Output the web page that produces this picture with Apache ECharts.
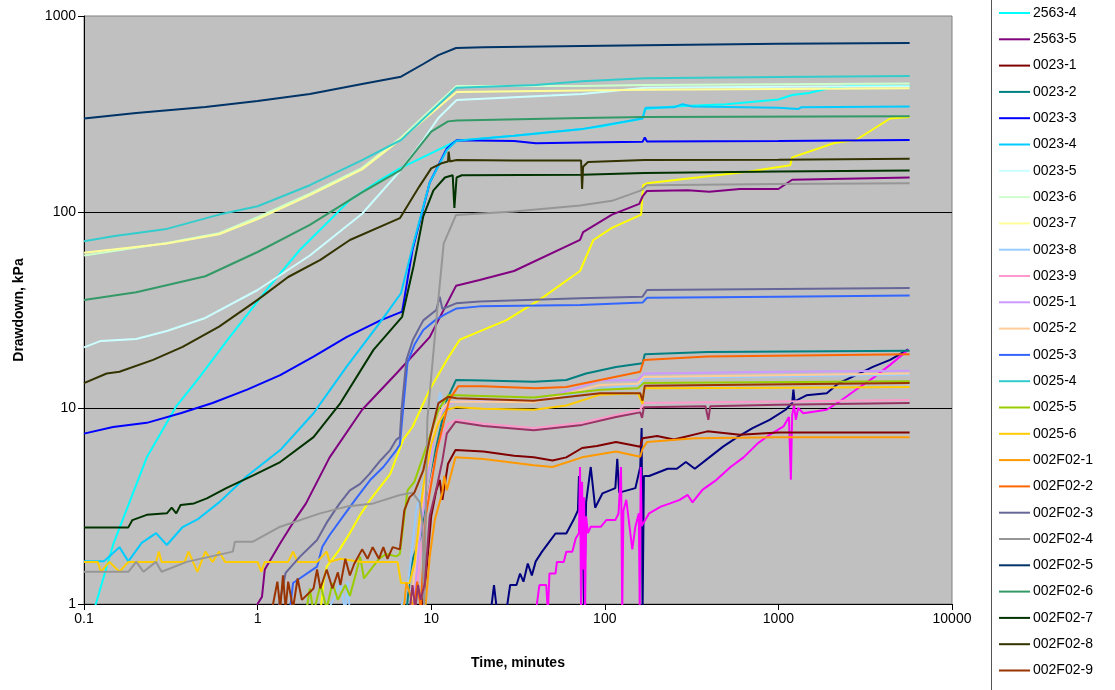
<!DOCTYPE html>
<html><head><meta charset="utf-8">
<script src="https://cdn.jsdelivr.net/npm/echarts@6/dist/echarts.min.js"></script>
<style>html,body{margin:0;padding:0;background:#fff}#c{width:1115px;height:690px}</style>
</head><body><div id="c"></div>
<script>
// ---- DATA: [time (min), drawdown (kPa)]; values below 1 kPa fall off the bottom of the axis ----
const xTicks = [0.1, 1, 10, 100, 1000, 10000];
const yTicks = [1, 10, 100, 1000];

const s2563_1 = [[19.9,0.9],[22,0.9],[23,1.25],[24,0.9],[27,0.9],[28.5,1.25],[31,1.25],[32.5,1.43],[34,1.3],[36,1.61],[38,1.4],[40,1.65],[43.5,1.85],[48,2.08],[52,2.29],[60,2.29],[66,2.68],[70,3.0],[71,4.5],[72,3.0],[74,3.3],[76,0.9],[78,3.3],[83,5.0],[88,3.1],[97,3.67],[115,3.9],[118,5.5],[121,3.7],[150,3.9],[160,5.0],[163,7.9],[165,0.9],[168,4.5],[180,4.5],[230,4.9],[260,4.9],[293,5.3],[330,4.9],[400,5.6],[480,6.35],[580,7.1],[710,7.9],[890,8.7],[1100,9.8],[1200,10.6],[1220,12.4],[1240,10.8],[1450,11.6],[1900,11.9],[2230,13.4],[2800,14.7],[3500,16.2],[4400,17.6],[5600,19.9]];
const s2563_2 = [[33,0.9],[40,0.9],[42,1.25],[46,1.25],[47,0.9],[48,1.43],[52,1.43],[53,1.64],[58,1.64],[60,1.85],[65,1.85],[68,2.16],[71,2.3],[72,5.0],[73,0.9],[74,4.2],[75,1.5],[76,3.5],[77,0.9],[78,2.8],[80,2.3],[83,2.48],[95,2.48],[102,2.68],[115,2.68],[120,2.9],[124,5.0],[126,0.9],[128,3.0],[133,3.4],[144,1.9],[150,2.48],[157,2.9],[159,0.9],[161,5.0],[163,2.5],[180,2.9],[210,3.14],[238,3.26],[270,3.4],[300,3.6],[320,3.3],[365,3.82],[440,4.3],[530,5.0],[630,5.6],[760,6.6],[890,7.3],[1070,8.05],[1150,9.0],[1180,4.3],[1200,9.2],[1230,10.3],[1260,8.7],[1300,10],[1390,9.4],[1900,9.8],[2250,10.8],[2800,12.4],[3500,14.2],[4400,16.6],[5600,19.8]];
const s2563_3 = [[2.3,0.9],[2.4,1.3],[2.5,1.55],[2.97,1.9],[3.4,2.3],[3.9,2.85],[4.45,3.4],[5.8,4.6],[6.9,6.9],[7.8,8],[9.8,12.4],[12.3,17.6],[14.6,22.3],[19,24.6],[27,28],[42,35.6],[72,50],[86,72],[110,83],[162,97],[166,137],[175,140],[680,161],[1170,173],[1200,190],[2100,225],[2800,233],[4400,300],[5700,305]];
const s2563_4 = [[0.113,0.9],[0.148,2.04],[0.23,5.6],[0.34,10.2],[0.45,13.9],[0.69,23],[1.15,41],[1.75,64],[3.4,115],[5.1,146],[6.6,167],[11.9,215],[14,231],[30,245],[72,264],[100,275],[165,300],[170,335],[250,345],[500,355],[1000,375],[1200,395],[1500,405],[2000,430],[2600,440],[5700,440]];
const s2563_5 = [[0.93,0.9],[1.06,1.09],[1.1,1.5],[1.35,2.04],[1.6,2.6],[1.9,3.26],[2.6,5.6],[4,9.8],[6.3,15],[9.8,23],[13.9,42],[19,45],[30,50],[72,72],[75,79],[110,97],[158,110],[165,120],[175,128],[300,129],[400,127],[600,131],[1000,131],[1200,146],[5700,150]];
const s0023_1 = [[8.8,0.9],[9.4,1.5],[10,2.8],[10.7,3.8],[11.2,4.3],[11.6,3.4],[12.5,5.2],[13.8,6.1],[20,6.0],[30,5.7],[39,5.6],[50,5.4],[60,5.6],[74,6.25],[90,6.4],[116,6.7],[140,6.5],[160,6.35],[165,7.0],[200,7.2],[250,6.9],[390,7.6],[600,7.3],[1000,7.5],[5700,7.5]];
const s0023_2 = [[7.2,0.9],[7.6,1.5],[7.9,1.74],[8.7,2.2],[9.5,3.4],[10.6,6.1],[12.3,11],[13.9,13.9],[20,13.8],[39,13.6],[60,13.9],[78,15],[116,16.2],[165,16.9],[170,18.8],[390,19.3],[5700,19.6]];
const s0023_3 = [[0.1,7.4],[0.147,8],[0.23,8.4],[0.36,9.4],[0.55,10.6],[0.87,12.4],[1.35,14.7],[2.1,18.3],[3.25,23],[5.1,28],[6.8,31],[7.8,64],[9.8,141],[12.3,211],[14,232],[30,230],[40,224],[74,226],[165,228],[170,240],[175,229],[1000,230],[5700,233]];
const s0023_4 = [[0.1,1.65],[0.13,1.65],[0.16,1.95],[0.18,1.65],[0.215,2.05],[0.26,2.3],[0.3,2.0],[0.37,2.47],[0.45,2.7],[0.6,3.3],[0.87,4.5],[1.35,6.1],[2.1,9.4],[3.25,16.2],[5.1,27.5],[6.7,38.5],[7.8,66],[9.8,141],[12.3,207],[14,231],[30,245],[72,264],[165,300],[172,340],[250,342],[280,355],[320,345],[1000,340],[1300,335],[1350,342],[5700,345]];
const s0023_5 = [[0.1,20.4],[0.125,22],[0.2,22.5],[0.3,24.7],[0.5,28.8],[1,40],[2,60],[4,98],[6.7,164],[9,233],[11,302],[14,373],[74,400],[170,430],[1000,435],[5700,438]];
const s0023_6 = [[0.1,60],[0.3,69.5],[0.6,78],[1,94],[2,124],[4,168],[6.7,240],[14,440],[74,439],[170,445],[5700,452]];
const s0023_7 = [[0.1,62],[0.3,69],[0.6,77],[1,92],[2,122],[4,165],[6.7,236],[14,410],[74,417],[170,420],[5700,428]];
const s0023_8 = [[2.5,0.9],[2.8,1.1],[3.0,1.3],[3.2,0.9],[3.3,1.3],[3.4,0.9],[6.5,0.9],[7.3,1.2],[7.8,2.0],[8.2,3.0],[9.5,5],[10.5,9],[11.3,12],[11.6,9.5],[12.5,10.6],[14,10.9],[39,10.9],[94,12.5],[160,13.2],[168,14.2],[5700,14.8]];
const s0023_9 = [[8.0,0.9],[8.8,2],[9.8,4],[11,6.5],[12.5,8.3],[14,8.7],[20,8.3],[39,7.9],[74,8.4],[116,9.2],[160,9.8],[168,10.6],[1000,10.8],[5700,11.0]];
const s0025_1 = [[7.8,0.9],[8.5,2],[9.5,4.5],[10.5,7.5],[11.5,9.5],[12.5,10.5],[14,10.8],[39,10.8],[94,13.8],[155,13.9],[168,15.0],[1000,15.3],[5700,15.5]];
const s0025_2 = [[7.6,0.9],[8.3,2],[9.3,4.5],[10.3,7.5],[11.5,9.8],[12.5,10.7],[14,10.8],[39,10.7],[94,13.1],[155,13.3],[168,14.4],[5700,15.0]];
const s0025_3 = [[1.53,0.9],[1.6,1.28],[2.2,1.55],[2.36,1.96],[2.6,2.25],[3.1,2.79],[3.7,3.46],[4.45,4.29],[5.3,5.0],[6.3,6.1],[6.6,6.5],[6.9,10],[7.3,17],[8,21],[9,25],[10.5,28],[12,30],[14,32.2],[19,33],[72,33.5],[165,34.5],[175,36.5],[1000,37],[5700,37.5]];
const s0025_4 = [[0.1,71],[0.15,75.5],[0.3,82],[0.6,97],[1,107],[2,137],[4,184],[6.7,233],[14,431],[40,445],[74,464],[170,481],[1000,488],[5700,494]];
const s0025_5 = [[1.9,0.9],[2.0,1.2],[2.1,0.9],[2.3,1.25],[2.5,0.95],[2.7,1.28],[2.9,1.05],[3.2,1.25],[3.4,1.1],[3.7,1.45],[3.9,1.74],[4.1,1.35],[5,1.7],[5.5,1.8],[6.3,1.75],[6.6,1.8],[7.3,3.8],[8,4.2],[9.8,7.1],[11,9.8],[12.5,11.6],[14,11.6],[39,11.3],[94,12.4],[155,12.6],[168,13.4],[5700,13.7]];
const s0025_6 = [[0.1,1.64],[0.12,1.64],[0.125,1.46],[0.14,1.64],[0.16,1.46],[0.18,1.64],[0.26,1.64],[0.27,1.85],[0.28,1.64],[0.38,1.64],[0.4,1.85],[0.45,1.46],[0.5,1.85],[0.55,1.64],[0.6,1.85],[0.65,1.64],[1,1.64],[1.05,1.46],[1.1,1.64],[1.5,1.64],[1.6,1.85],[1.7,1.64],[2.2,1.64],[2.5,1.85],[2.6,1.64],[3,1.7],[4,1.64],[5,1.64],[6.4,1.64],[6.7,1.28],[7.5,1.28],[8,1.6],[9,4],[10,6.5],[11,8.4],[12.3,9.8],[14,10.1],[20,9.9],[39,9.8],[60,10.3],[94,11.7],[155,11.9],[165,10.5],[168,12.6],[1000,12.7],[5700,12.8]];
const s002F02_1 = [[6.9,0.9],[7.2,1.28],[7.6,1.1],[8.0,0.9],[9.2,0.9],[9.8,1.74],[10.5,2.7],[11.6,3.7],[11.9,4.5],[12.3,3.8],[13.8,5.6],[20,5.5],[39,5.1],[50,5.0],[74,5.6],[116,6.0],[160,5.64],[165,6.2],[175,6.7],[330,7.0],[1000,7.1],[5700,7.1]];
const s002F02_2 = [[7.9,0.9],[8.3,1.3],[8.7,0.95],[9.3,2.8],[10.8,6.1],[12.7,11],[14.3,12.9],[20,12.9],[40,12.6],[60,12.8],[94,13.9],[160,15.3],[168,17.6],[390,18.3],[5700,18.8]];
const s002F02_3 = [[1.3,0.9],[1.45,1.44],[1.75,1.74],[2.2,2.12],[2.5,2.6],[2.97,3.26],[3.4,3.8],[3.9,4.1],[4.4,4.6],[5.1,5.4],[5.8,6.1],[6.3,6.9],[6.6,7.1],[6.75,9.8],[7.2,17.6],[7.85,22.3],[9,28],[10.7,31.6],[11.2,37],[11.6,32],[13.9,34.2],[19,34.9],[72,36.3],[165,37],[175,40],[1000,40.5],[5700,41]];
const s002F02_4 = [[0.1,1.46],[0.18,1.46],[0.2,1.64],[0.22,1.46],[0.26,1.64],[0.28,1.46],[0.39,1.64],[0.72,1.85],[0.74,2.08],[0.94,2.08],[1.35,2.48],[2.29,2.9],[3.25,3.14],[4.65,3.26],[6.6,3.6],[7.8,3.7],[8.6,3.3],[8.9,2.6],[9.1,0.9],[9.3,3],[9.5,8.7],[10.7,28],[11.8,69],[13.9,96.6],[30,100.7],[72,108],[110,114],[162,129],[175,137],[1000,139],[5700,140]];
const s002F02_5 = [[0.1,300],[0.2,320],[0.5,343],[1,368],[2,400],[4,450],[6.7,490],[9,569],[11,632],[13.9,687],[20,692],[74,703],[170,710],[1000,722],[5700,728]];
const s002F02_6 = [[0.1,35.6],[0.2,39],[0.5,47],[1,62.5],[2,86],[4,126],[6.7,164],[10,257],[12.5,290],[14,293],[74,302],[170,305],[5700,308]];
const s002F02_7 = [[0.1,2.46],[0.18,2.46],[0.19,2.68],[0.23,2.85],[0.3,2.9],[0.32,3.1],[0.34,2.9],[0.36,3.2],[0.43,3.26],[0.51,3.46],[0.66,3.9],[0.95,4.55],[1.35,5.3],[2.1,7.1],[3,10.6],[4.65,19.8],[6.8,29.2],[7.9,52.6],[9,95],[10.3,129],[12,150],[13.3,154],[13.6,105],[14,150],[15,154],[74,155],[170,158],[1000,161],[5700,163]];
const s002F02_8 = [[0.1,13.4],[0.135,15],[0.16,15.3],[0.25,17.6],[0.37,20.5],[0.6,26],[1,35.6],[1.5,46.6],[2.3,57],[3.4,72],[6.6,93],[8.5,134],[10,167],[11.6,178],[12.5,181],[12.6,203],[12.8,181],[14,184],[30,183],[73,183],[74,131],[75,170],[80,180],[170,184],[1000,185],[5700,187]];
const s002F02_9 = [[1.2,0.9],[1.3,1.3],[1.35,0.95],[1.4,1.4],[1.45,0.95],[1.5,1.3],[1.6,0.95],[1.7,1.35],[1.8,1.05],[2.1,1.2],[2.2,1.5],[2.3,1.2],[2.5,1.5],[2.7,1.2],[2.9,1.45],[3.0,1.25],[3.2,1.7],[3.4,1.4],[3.6,1.6],[4,1.9],[4.3,1.7],[4.6,1.95],[5,1.7],[5.3,1.95],[5.6,1.7],[6.0,1.95],[6.6,1.9],[7.0,3.0],[7.5,3.5],[8,3.7],[9,4.8],[9.8,6.9],[11,10.6],[12.5,11.4],[14,11.2],[39,10.9],[94,11.9],[160,11.9],[165,10.9],[170,13],[5700,13.4]];
const s002F02_10 = [[7.5,0.9],[7.8,1.25],[8.1,0.95],[8.4,1.25],[8.7,1.05],[9.2,1.28],[9.8,2.8],[10.8,4],[11.6,5.4],[12.3,7.4],[13.8,8.5],[20,8.1],[39,7.7],[74,8.2],[116,9.0],[160,9.5],[164,8.9],[168,10.1],[380,10.2],[395,8.7],[405,10.2],[1000,10.4],[5700,10.6]];

const seriesNames = ['2563-1','2563-2','2563-3','2563-4','2563-5','0023-1','0023-2','0023-3','0023-4','0023-5','0023-6','0023-7','0023-8','0023-9','0025-1','0025-2','0025-3','0025-4','0025-5','0025-6','002F02-1','002F02-2','002F02-3','002F02-4','002F02-5','002F02-6','002F02-7','002F02-8','002F02-9','002F02-10'];
const seriesData = [s2563_1,s2563_2,s2563_3,s2563_4,s2563_5,s0023_1,s0023_2,s0023_3,s0023_4,s0023_5,s0023_6,s0023_7,s0023_8,s0023_9,s0025_1,s0025_2,s0025_3,s0025_4,s0025_5,s0025_6,s002F02_1,s002F02_2,s002F02_3,s002F02_4,s002F02_5,s002F02_6,s002F02_7,s002F02_8,s002F02_9,s002F02_10];
const legendNames = seriesNames.slice(3, 29);

// ---- STYLE ----
const colors = ['#000080','#FF00FF','#FFFF00','#00FFFF','#800080','#800000','#008080','#0000FF','#00CCFF','#CCFFFF','#CCFFCC','#FFFF99','#99CCFF','#FF99CC','#CC99FF','#FFCC99','#3366FF','#33CCCC','#99CC00','#FFCC00','#FF9900','#FF6600','#666699','#969696','#003366','#339966','#003300','#333300','#993300','#993366'];
const FONT = 'Arial, "Liberation Sans", sans-serif';

const chart = echarts.init(document.getElementById('c'), null, {renderer: 'canvas'});
const fmt = v => String(+Number(v).toPrecision(6));
chart.setOption({
  animation: false,
  backgroundColor: '#ffffff',
  textStyle: {fontFamily: FONT},
  grid: {left: 84, right: 163, top: 16, bottom: 86, show: true, backgroundColor: '#C0C0C0', borderColor: '#808080', borderWidth: 1},
  legend: {
    orient: 'vertical', left: 998, top: 6, padding: 0,
    itemWidth: 31, itemHeight: 14, itemGap: 12.3,
    data: legendNames,
    itemStyle: {opacity: 0, borderWidth: 0},
    lineStyle: {width: 2},
    textStyle: {fontFamily: FONT, fontSize: 14, color: '#000', lineHeight: 14, padding: [0,0,0,-2]},
    selectedMode: false
  },
  graphic: [{type: 'line', shape: {x1: 991.5, y1: 0, x2: 991.5, y2: 690}, style: {stroke: '#555', lineWidth: 1}, silent: true}],
  xAxis: {
    type: 'log', logBase: 10, min: xTicks[0], max: xTicks[xTicks.length-1],
    name: 'Time, minutes', nameLocation: 'middle', nameGap: 52,
    nameTextStyle: {fontFamily: FONT, fontSize: 14, fontWeight: 'bold', color: '#000'},
    axisLine: {show: true, onZero: false, lineStyle: {color: '#000', width: 1}},
    axisTick: {show: true, inside: false, length: 6, lineStyle: {color: '#000'}},
    axisLabel: {fontFamily: FONT, fontSize: 14, color: '#000', margin: 8, formatter: fmt},
    splitLine: {show: false}, minorTick: {show: false}
  },
  yAxis: {
    type: 'log', logBase: 10, min: yTicks[0], max: yTicks[yTicks.length-1],
    name: 'Drawdown, kPa', nameLocation: 'middle', nameGap: 58, nameRotate: 90,
    nameTextStyle: {fontFamily: FONT, fontSize: 14, fontWeight: 'bold', color: '#000'},
    axisLine: {show: true, onZero: false, lineStyle: {color: '#000', width: 1}},
    axisTick: {show: true, inside: false, length: 6, lineStyle: {color: '#000'}},
    axisLabel: {fontFamily: FONT, fontSize: 14, color: '#000', margin: 8, formatter: fmt},
    splitLine: {show: true, showMinLine: false, showMaxLine: false, lineStyle: {color: '#000', width: 1}}
  },
  series: seriesData.map((d, i) => ({
    name: seriesNames[i], type: 'line', data: d, symbol: 'none', showSymbol: false,
    clip: true, color: colors[i],
    lineStyle: {color: colors[i], width: 2},
    itemStyle: {color: colors[i]}
  }))
});
</script></body></html>
